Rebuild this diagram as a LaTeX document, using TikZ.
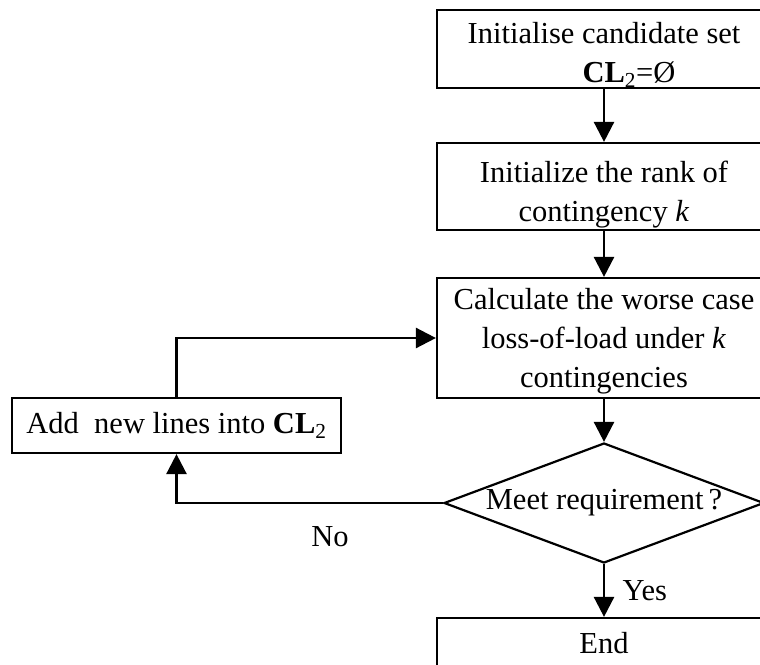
\documentclass[tikz,border=0pt]{standalone}
\usepackage{fontspec}
\setmainfont{Liberation Serif}
\usetikzlibrary{arrows.meta,shapes.geometric}
\begin{document}
\begin{tikzpicture}[x=1pt,y=-1pt,
  every node/.style={font=\fontsize{30.5}{39}\selectfont},
  stepbox/.style={draw,line width=2.2pt,minimum width=334pt,inner sep=0pt,align=center},
  decision/.style={draw,line width=2.2pt,diamond,aspect=2.667,inner sep=0pt,
    minimum width=320pt,minimum height=120pt},
  flow/.style={line width=2.6pt,-{Triangle[length=20pt,width=20pt]}}]
\useasboundingbox (0,0) rectangle (760,664);

% main column
\node[stepbox,minimum height=78pt]  (init) at (604,49)
  {\rule{0pt}{33pt}Initialise candidate set\\\hspace*{50pt}\textbf{CL}\textsubscript{2}=Ø};
\node[stepbox,minimum height=87pt]  (rank) at (604,186.5)
  {\rule{0pt}{38pt}Initialize the rank of\\contingency \textit{k}};
\node[stepbox,minimum height=120pt] (calc) at (604,338)
  {\rule{0pt}{28pt}Calculate the worse case\\loss-of-load under \textit{k}\\contingencies};
\node[decision] (meet) at (604,503) {Meet requirement\,?};
\node[stepbox,minimum height=50pt]  (end) at (604,643) {End};

% side branch
\node[stepbox,minimum width=329pt,minimum height=55pt] (add) at (176.5,425.5)
  {Add~~new lines into \textbf{CL}\textsubscript{2}};

% connectors
\draw[flow] (init.south) -- (rank.north);
\draw[flow] (rank.south) -- (calc.north);
\draw[flow] (calc.south) -- (meet.north);
\draw[flow] (meet.south) -- node[right=14pt,pos=0.5] (yes) {Yes} (end.north);
\draw[flow] (meet.west) -- (add.south |- meet.west) -- (add.south);
\draw[flow] (add.north) -- (add.north |- calc.west) -- (calc.west);
\node (no) at (330,537) {No};
\end{tikzpicture}
\end{document}
